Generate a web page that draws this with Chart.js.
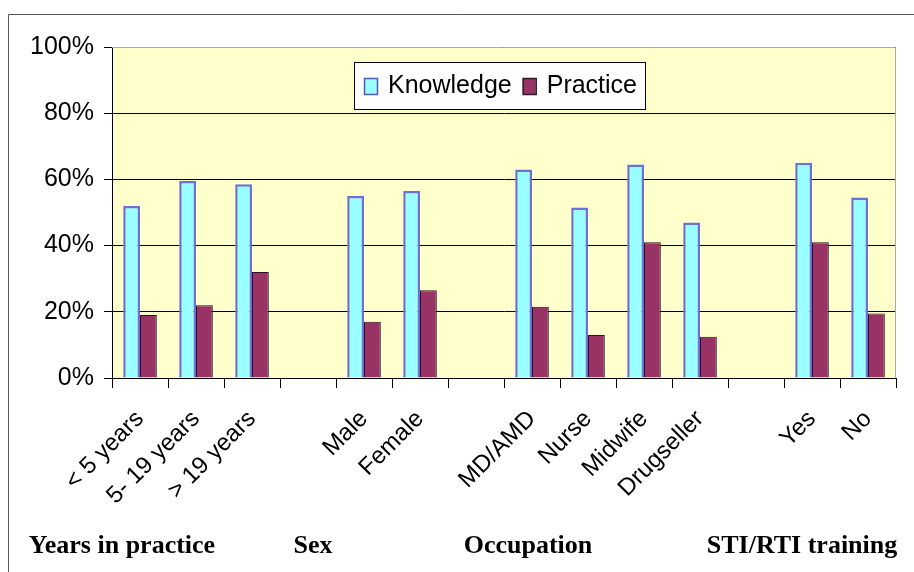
<!DOCTYPE html>
<html>
<head>
<meta charset="utf-8">
<script src="https://cdn.jsdelivr.net/npm/chart.js@4"></script>
<style>
  html, body { margin: 0; padding: 0; background: #fff; }
  #wrap { width: 914px; height: 572px; position: relative; }
</style>
</head>
<body>
<div id="wrap"><canvas id="kpChart"></canvas></div>
<script>
// categories (empty strings are the gaps between groups)
const categories = [
  "< 5 years", "5- 19 years", "> 19 years", "",
  "Male", "Female", "",
  "MD/AMD", "Nurse", "Midwife", "Drugseller", "",
  "Yes", "No"
];

const knowledgeValues = [52, 59.5, 58.5, null, 55, 56.5, null, 63, 51.5, 64.5, 47, null, 65, 54.5];
const practiceValues = [19, 22, 32, null, 17, 26.5, null, 21.5, 13, 41, 12.5, null, 41, 19.5];

const seriesNames = ["Knowledge", "Practice"];
const groupNames = ["Years in practice", "Sex", "Occupation", "STI/RTI training"];
const yTicks = [0, 20, 40, 60, 80, 100];

const SANS = "'Liberation Sans', Arial, sans-serif";
const SERIF = "'Liberation Serif', 'Times New Roman', serif";

// ============================
// PLUGINS
// ============================
const plotBackground = {
  id: "plotBackground",
  beforeDraw(chart) {
    const { ctx, chartArea: a } = chart;
    ctx.save();
    // outer frame (left + top only, picture is cropped)
    ctx.strokeStyle = "#555";
    ctx.lineWidth = 1;
    ctx.beginPath();
    ctx.moveTo(8.5, 572);
    ctx.lineTo(8.5, 14.5);
    ctx.lineTo(914, 14.5);
    ctx.stroke();
    ctx.fillStyle = "#ffffcc";
    ctx.fillRect(a.left, a.top, a.right - a.left, a.bottom - a.top);
    ctx.restore();
  },
  afterDatasetsDraw(chart) {
    const { ctx, chartArea: a } = chart;
    ctx.save();
    ctx.strokeStyle = "#aaa";
    ctx.lineWidth = 1;
    ctx.beginPath();
    ctx.moveTo(a.left, a.top + 0.5);
    ctx.lineTo(a.right - 0.5, a.top + 0.5);
    ctx.lineTo(a.right - 0.5, a.bottom);
    ctx.stroke();
    ctx.restore();
  }
};

// legend box drawn inside the plot
const insideLegend = {
  id: "insideLegend",
  afterDraw(chart) {
    const { ctx, chartArea: a } = chart;
    const x = a.left + 242, y = a.top + 15, w = 291, h = 47;
    ctx.save();
    ctx.fillStyle = "#fff";
    ctx.fillRect(x, y, w, h);
    ctx.strokeStyle = "#000";
    ctx.lineWidth = 1;
    ctx.strokeRect(x + 0.5, y + 0.5, w, h);
    ctx.font = "25px " + SANS;
    ctx.textBaseline = "middle";
    let cx = x + 10;
    chart.data.datasets.forEach(ds => {
      ctx.fillStyle = ds.backgroundColor;
      ctx.fillRect(cx, y + 16, 13, 16);
      ctx.strokeStyle = ds.label === "Knowledge" ? "#5555bb" : "#222";
      ctx.lineWidth = 1.5;
      ctx.strokeRect(cx + 0.5, y + 16.5, 13, 16);
      ctx.fillStyle = "#000";
      ctx.fillText(ds.label, cx + 24, y + h / 2 + 1);
      cx += 24 + ctx.measureText(ds.label).width + 11;
    });
    ctx.restore();
  }
};

// group captions under the axis labels
const groupCaptions = {
  id: "groupCaptions",
  afterDraw(chart) {
    const { ctx } = chart;
    const centers = [122, 313, 528, 802];
    ctx.save();
    ctx.font = "bold 26px " + SERIF;
    ctx.fillStyle = "#000";
    ctx.textAlign = "center";
    ctx.textBaseline = "alphabetic";
    groupNames.forEach((name, i) => {
      ctx.fillText(name, centers[i], 553);
    });
    ctx.restore();
  }
};

// ============================
// CHART
// ============================
new Chart(document.getElementById("kpChart").getContext("2d"), {
  type: "bar",
  data: {
    labels: categories,
    datasets: [
      {
        label: seriesNames[0],
        data: knowledgeValues,
        backgroundColor: "#99ffff",
        borderColor: "#6f6fd8",
        borderWidth: 2.5,
        categoryPercentage: 0.6,
        barPercentage: 1
      },
      {
        label: seriesNames[1],
        data: practiceValues,
        backgroundColor: "#993366",
        borderColor: "#2a1020",
        borderWidth: 1,
        categoryPercentage: 0.6,
        barPercentage: 1
      }
    ]
  },
  options: {
    responsive: true,
    maintainAspectRatio: false,
    animation: false,
    layout: { padding: { left: 0, top: 47, right: 18, bottom: 0 } },
    plugins: {
      legend: { display: false },
      tooltip: { enabled: false }
    },
    scales: {
      x: {
        offset: true,
        grid: {
          offset: true,
          drawOnChartArea: false,
          drawTicks: true,
          tickLength: 10,
          color: "#000"
        },
        border: { display: true, color: "#000", width: 1 },
        ticks: {
          autoSkip: false,
          minRotation: 45,
          maxRotation: 45,
          padding: 17,
          color: "#000",
          font: { family: SANS, size: 24 }
        },
        afterFit(scale) { scale.height = 194; }
      },
      y: {
        min: 0,
        max: 100,
        afterBuildTicks(scale) {
          scale.ticks = yTicks.map(v => ({ value: v }));
        },
        grid: { color: "#000", tickLength: 8, lineWidth: 1 },
        border: { display: true, color: "#000", width: 1 },
        ticks: {
          padding: 10,
          color: "#000",
          font: { family: SANS, size: 25 },
          callback: v => v + "%"
        },
        afterFit(scale) { scale.width = 112; }
      }
    }
  },
  plugins: [plotBackground, insideLegend, groupCaptions]
});
</script>
</body>
</html>
